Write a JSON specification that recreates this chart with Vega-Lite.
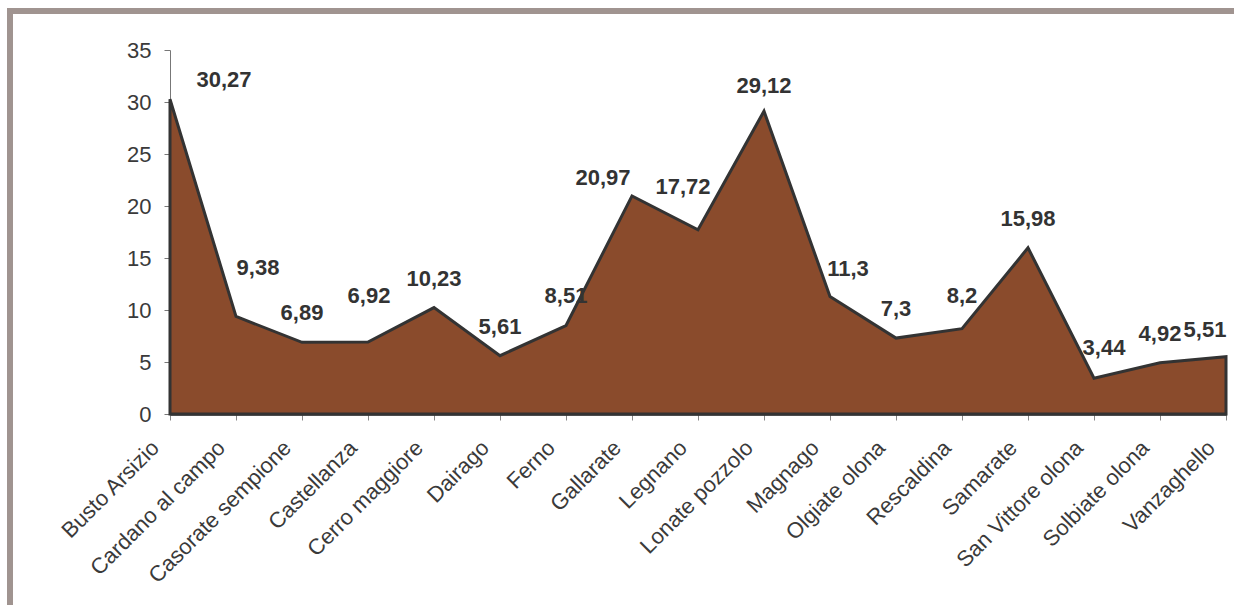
{
  "$schema": "https://vega.github.io/schema/vega-lite/v6.json",
  "autosize": "none",
  "padding": {"left": 10, "top": 11, "right": -10, "bottom": -11},
  "width": 1234,
  "height": 605,
  "background": "white",
  "config": {
    "view": {"stroke": "#a09490", "strokeWidth": 6},
    "font": "Liberation Sans"
  },
  "data": {
    "values": [
      {"comune": "Busto Arsizio", "valore": 30.27, "label": "30,27"},
      {"comune": "Cardano al campo", "valore": 9.38, "label": "9,38"},
      {"comune": "Casorate sempione", "valore": 6.89, "label": "6,89"},
      {"comune": "Castellanza", "valore": 6.92, "label": "6,92"},
      {"comune": "Cerro maggiore", "valore": 10.23, "label": "10,23"},
      {"comune": "Dairago", "valore": 5.61, "label": "5,61"},
      {"comune": "Ferno", "valore": 8.51, "label": "8,51"},
      {"comune": "Gallarate", "valore": 20.97, "label": "20,97"},
      {"comune": "Legnano", "valore": 17.72, "label": "17,72"},
      {"comune": "Lonate pozzolo", "valore": 29.12, "label": "29,12"},
      {"comune": "Magnago", "valore": 11.3, "label": "11,3"},
      {"comune": "Olgiate olona", "valore": 7.3, "label": "7,3"},
      {"comune": "Rescaldina", "valore": 8.2, "label": "8,2"},
      {"comune": "Samarate", "valore": 15.98, "label": "15,98"},
      {"comune": "San Vittore olona", "valore": 3.44, "label": "3,44"},
      {"comune": "Solbiate olona", "valore": 4.92, "label": "4,92"},
      {"comune": "Vanzaghello", "valore": 5.51, "label": "5,51"}
    ]
  },
  "encoding": {
    "x": {
      "field": "comune", "type": "nominal", "sort": null,
      "scale": {"type": "point", "padding": 0, "range": [160, 1216]},
      "axis": {
        "title": null, "offset": -202, "labelAngle": -45, "labelFontSize": 22,
        "labelAlign": "right", "labelBaseline": "middle", "labelOffset": -15,
        "labelColor": "#3a3a3a", "domainColor": "#333333", "domainWidth": 2.5,
        "tickColor": "#888888", "tickSize": 6, "labelPadding": 24, "labelLimit": 300
      }
    },
    "y": {
      "field": "valore", "type": "quantitative",
      "scale": {"domain": [0, 35], "nice": false, "range": [403, 39]},
      "axis": {
        "title": null, "offset": -160, "values": [0, 5, 10, 15, 20, 25, 30, 35],
        "grid": false, "labelFontSize": 22, "labelColor": "#3a3a3a",
        "domainColor": "#777777", "domainWidth": 1, "tickColor": "#777777",
        "tickSize": 6, "labelPadding": 13
      }
    }
  },
  "layer": [
    {"mark": {"type": "area", "color": "#8a4b2c", "stroke": "#333333", "strokeWidth": 3, "opacity": 1, "strokeJoin": "miter"}},
    {
      "transform": [{"filter": {"field": "comune", "oneOf": ["Casorate sempione", "Cerro maggiore", "Dairago", "Ferno", "Olgiate olona", "Samarate", "Solbiate olona"]}}],
      "mark": {"type": "text", "dy": -29, "fontSize": 22, "fontWeight": "bold", "color": "#333333"},
      "encoding": {"text": {"field": "label"}}
    },
    {
      "transform": [{"filter": {"field": "comune", "oneOf": ["Lonate pozzolo"]}}],
      "mark": {"type": "text", "dy": -25, "fontSize": 22, "fontWeight": "bold", "color": "#333333"},
      "encoding": {"text": {"field": "label"}}
    },
    {
      "transform": [{"filter": {"field": "comune", "oneOf": ["Rescaldina"]}}],
      "mark": {"type": "text", "dy": -33, "fontSize": 22, "fontWeight": "bold", "color": "#333333"},
      "encoding": {"text": {"field": "label"}}
    },
    {
      "transform": [{"filter": {"field": "comune", "oneOf": ["Busto Arsizio"]}}],
      "mark": {"type": "text", "dx": 54, "dy": -19, "fontSize": 22, "fontWeight": "bold", "color": "#333333"},
      "encoding": {"text": {"field": "label"}}
    },
    {
      "transform": [{"filter": {"field": "comune", "oneOf": ["Cardano al campo"]}}],
      "mark": {"type": "text", "dx": 22, "dy": -48, "fontSize": 22, "fontWeight": "bold", "color": "#333333"},
      "encoding": {"text": {"field": "label"}}
    },
    {
      "transform": [{"filter": {"field": "comune", "oneOf": ["Castellanza"]}}],
      "mark": {"type": "text", "dx": 1, "dy": -46, "fontSize": 22, "fontWeight": "bold", "color": "#333333"},
      "encoding": {"text": {"field": "label"}}
    },
    {
      "transform": [{"filter": {"field": "comune", "oneOf": ["Gallarate"]}}],
      "mark": {"type": "text", "dx": -29, "dy": -18, "fontSize": 22, "fontWeight": "bold", "color": "#333333"},
      "encoding": {"text": {"field": "label"}}
    },
    {
      "transform": [{"filter": {"field": "comune", "oneOf": ["Legnano"]}}],
      "mark": {"type": "text", "dx": -15, "dy": -43, "fontSize": 22, "fontWeight": "bold", "color": "#333333"},
      "encoding": {"text": {"field": "label"}}
    },
    {
      "transform": [{"filter": {"field": "comune", "oneOf": ["Magnago"]}}],
      "mark": {"type": "text", "dx": 18, "dy": -27, "fontSize": 22, "fontWeight": "bold", "color": "#333333"},
      "encoding": {"text": {"field": "label"}}
    },
    {
      "transform": [{"filter": {"field": "comune", "oneOf": ["San Vittore olona"]}}],
      "mark": {"type": "text", "dx": 10, "dy": -30, "fontSize": 22, "fontWeight": "bold", "color": "#333333"},
      "encoding": {"text": {"field": "label"}}
    },
    {
      "transform": [{"filter": {"field": "comune", "oneOf": ["Vanzaghello"]}}],
      "mark": {"type": "text", "dx": -21, "dy": -27, "fontSize": 22, "fontWeight": "bold", "color": "#333333"},
      "encoding": {"text": {"field": "label"}}
    }
  ]
}
